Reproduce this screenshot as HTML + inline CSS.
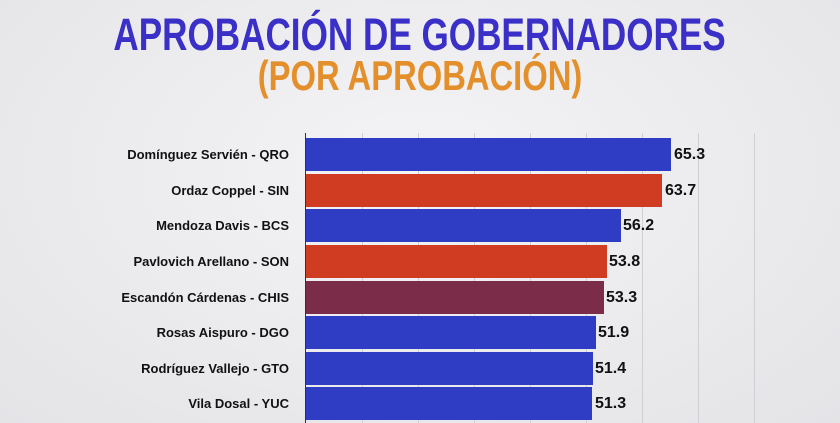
<!DOCTYPE html>
<html><head><style>
body{margin:0;width:840px;height:423px;overflow:hidden;background:radial-gradient(ellipse at 50% 40%,#f4f4f6,#e4e4e7);font-family:"Liberation Sans",sans-serif;position:relative}
.t{position:absolute;left:0;width:840px;text-align:center;font-weight:bold;white-space:nowrap}
.t span{display:inline-block;transform:scaleX(0.78);transform-origin:center}
.g{position:absolute;top:133px;height:290px;width:1px;background:#cfd0d6}
.b{position:absolute;left:306px;height:33px}
.l{position:absolute;right:551px;font-size:13px;font-weight:bold;color:#111;line-height:33px}
.v{position:absolute;font-size:16px;font-weight:bold;color:#111;line-height:33px}
</style></head><body>
<div class="t" style="top:12px;font-size:45px;color:#3a2fc6;line-height:46px"><span>APROBACIÓN DE GOBERNADORES</span></div>
<div class="t" style="top:55px;font-size:42px;color:#e3902c;line-height:42px"><span>(POR APROBACIÓN)</span></div>
<div class="g" style="left:362px"></div><div class="g" style="left:418px"></div><div class="g" style="left:474px"></div><div class="g" style="left:530px"></div><div class="g" style="left:586px"></div><div class="g" style="left:642px"></div><div class="g" style="left:698px"></div><div class="g" style="left:754px"></div>
<div style="position:absolute;left:305px;top:133px;width:1px;height:290px;background:#333"></div>

<div class="b" style="top:138px;width:365px;background:#2f3cc4"></div><div class="l" style="top:138px">Domínguez Servién - QRO</div><div class="v" style="top:138px;left:674px">65.3</div>
<div class="b" style="top:174px;width:356px;background:#d03c22"></div><div class="l" style="top:174px">Ordaz Coppel - SIN</div><div class="v" style="top:174px;left:665px">63.7</div>
<div class="b" style="top:209px;width:315px;background:#2f3cc4"></div><div class="l" style="top:209px">Mendoza Davis - BCS</div><div class="v" style="top:209px;left:623px">56.2</div>
<div class="b" style="top:245px;width:301px;background:#d03c22"></div><div class="l" style="top:245px">Pavlovich Arellano - SON</div><div class="v" style="top:245px;left:609px">53.8</div>
<div class="b" style="top:281px;width:298px;background:#7a2c48"></div><div class="l" style="top:281px">Escandón Cárdenas - CHIS</div><div class="v" style="top:281px;left:606px">53.3</div>
<div class="b" style="top:316px;width:290px;background:#2f3cc4"></div><div class="l" style="top:316px">Rosas Aispuro - DGO</div><div class="v" style="top:316px;left:598px">51.9</div>
<div class="b" style="top:352px;width:287px;background:#2f3cc4"></div><div class="l" style="top:352px">Rodríguez Vallejo - GTO</div><div class="v" style="top:352px;left:595px">51.4</div>
<div class="b" style="top:387px;width:286px;background:#2f3cc4"></div><div class="l" style="top:387px">Vila Dosal - YUC</div><div class="v" style="top:387px;left:595px">51.3</div>
</body></html>
